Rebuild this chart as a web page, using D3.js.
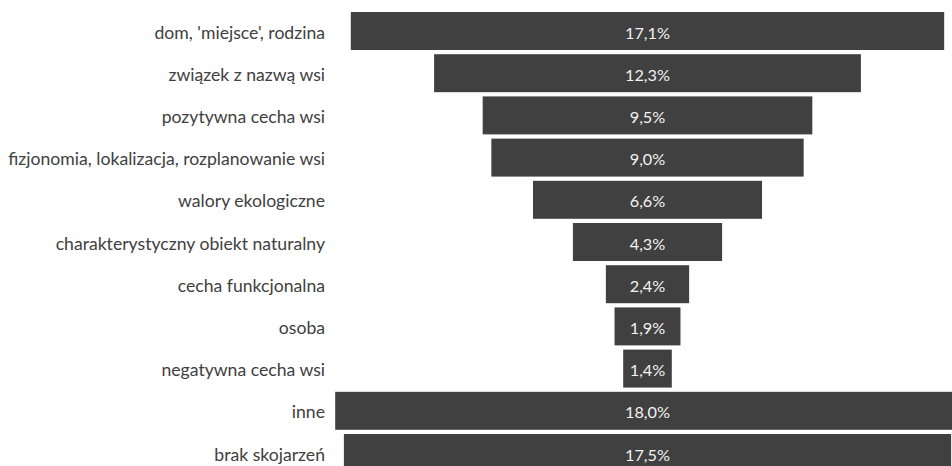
<!DOCTYPE html>
<html><head><meta charset="utf-8">
<script src="https://cdn.jsdelivr.net/npm/d3@7"></script>
<style>html,body{margin:0;padding:0;background:#fff;overflow:hidden}</style>
</head><body>
<svg id="c" width="952" height="466"></svg>
<script>
const categories = ["dom, 'miejsce', rodzina","związek z nazwą wsi","pozytywna cecha wsi","fizjonomia, lokalizacja, rozplanowanie wsi","walory ekologiczne","charakterystyczny obiekt naturalny","cecha funkcjonalna","osoba","negatywna cecha wsi","inne","brak skojarzeń"];
const values = [17.1,12.3,9.5,9.0,6.6,4.3,2.4,1.9,1.4,18.0,17.5];
const valueLabels = ["17,1%","12,3%","9,5%","9,0%","6,6%","4,3%","2,4%","1,9%","1,4%","18,0%","17,5%"];

const svg = d3.select("#c");
const cx = 647.5;
const w = d3.scaleLinear().domain([0,1]).range([0,34.7]);
const y = d3.scaleBand().domain(categories).range([9.9, 9.9+11*42.2]).paddingInner(0.1).paddingOuter(0.05);

svg.selectAll("rect.bar").data(categories).join("rect")
  .attr("x",(d,i)=>cx - w(values[i])/2)
  .attr("y",d=>y(d))
  .attr("width",(d,i)=>w(values[i]))
  .attr("height",y.bandwidth())
  .attr("fill","#404040");

const vals = svg.selectAll("text.val").data(categories).join("text")
  .attr("x",cx).attr("y",d=>y(d)+y.bandwidth()/2+1)
  .attr("text-anchor","middle").attr("dominant-baseline","central")
  .attr("fill","#f2f2f2").attr("font-family","Lato, sans-serif").attr("font-size",15)
  .text((d,i)=>valueLabels[i]);
const w0 = vals.nodes()[0].getComputedTextLength();
vals.attr("font-size", 15*45/w0);

const cats = svg.selectAll("text.cat").data(categories).join("text")
  .attr("x",325).attr("y",d=>y(d)+y.bandwidth()/2+1)
  .attr("text-anchor","end").attr("dominant-baseline","central")
  .attr("fill","#404040").attr("font-family","Lato, sans-serif").attr("font-size",15)
  .text(d=>d);
let maxW = d3.max(cats.nodes(), n=>n.getComputedTextLength());
cats.attr("font-size", 15*317/maxW);
</script>
</body></html>
